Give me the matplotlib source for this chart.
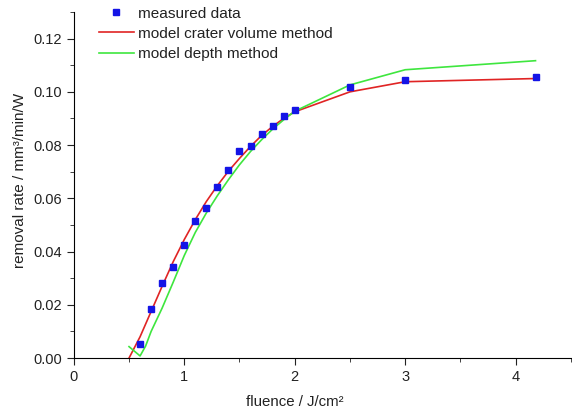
import matplotlib
matplotlib.use("Agg")
import matplotlib.pyplot as plt
from matplotlib.ticker import MultipleLocator

plt.rcParams['font.family'] = ['Liberation Sans', 'DejaVu Sans']

# measured data
fluence = [0.6, 0.7, 0.8, 0.9, 1.0, 1.1, 1.2, 1.3, 1.4, 1.5, 1.6, 1.7, 1.8, 1.9, 2.0, 2.5, 3.0, 4.18]
rate = [0.0053, 0.0184, 0.0281, 0.0342, 0.0425, 0.0515, 0.0564, 0.0644, 0.0707, 0.0776,
        0.0798, 0.0842, 0.0870, 0.0910, 0.0932, 0.1018, 0.1043, 0.1054]

# model crater volume method
f_vol = [0.5, 0.6, 0.7, 0.8, 0.9, 1.0, 1.1, 1.2, 1.3, 1.4, 1.5, 1.6, 1.7, 1.8, 1.9, 2.0, 2.5, 3.0, 4.18]
r_vol = [0.0, 0.0080, 0.0175, 0.0270, 0.0362, 0.0445, 0.0520, 0.0588, 0.0648, 0.0702, 0.0750,
         0.0795, 0.0836, 0.0870, 0.0900, 0.0925, 0.1000, 0.1038, 0.1050]

# model depth method
f_dep = [0.5, 0.6, 0.65, 0.7, 0.8, 0.9, 1.0, 1.1, 1.2, 1.3, 1.4, 1.5, 1.6, 1.7, 1.8, 1.9, 2.0, 2.5, 3.0, 4.18]
r_dep = [0.0043, 0.0008, 0.0045, 0.0100, 0.0188, 0.0285, 0.0385, 0.0472, 0.0545, 0.0610, 0.0670,
         0.0726, 0.0776, 0.0820, 0.0860, 0.0895, 0.0927, 0.1026, 0.1083, 0.1117]

fig = plt.figure(figsize=(5.72, 4.13), dpi=100)
ax = fig.add_axes([0.129, 0.133, 0.869, 0.838])

ax.plot(fluence, rate, 's', color='#1414e6', markersize=5, label='measured data', zorder=3)
ax.plot(f_vol, r_vol, color='#e02424', lw=1.2, label='model crater volume method')
ax.plot(f_dep, r_dep, color='#3ee63e', lw=1.2, label='model depth method')

ax.set_xlim(0, 4.5)
ax.set_ylim(0, 0.13)
ax.xaxis.set_major_locator(MultipleLocator(1))
ax.xaxis.set_minor_locator(MultipleLocator(0.5))
ax.yaxis.set_major_locator(MultipleLocator(0.02))
ax.yaxis.set_minor_locator(MultipleLocator(0.01))
ax.yaxis.set_major_formatter(matplotlib.ticker.FormatStrFormatter('%.2f'))
ax.spines['top'].set_visible(False)
ax.spines['right'].set_visible(False)
ax.tick_params(which='major', direction='out', length=5, labelsize=10.5, colors='#222222')
ax.tick_params(which='minor', direction='out', length=3, colors='#222222')

ax.set_xlabel('fluence / J/cm²', fontsize=10.8, color='#222222')
ax.xaxis.set_label_coords(2.0 / 4.5, -0.108)
ax.set_ylabel('removal rate / mm³/min/W', fontsize=11, color='#222222')
ax.yaxis.set_label_coords(-0.095, 0.514)

leg = ax.legend(loc='upper left', bbox_to_anchor=(0.173, 0.984), bbox_transform=fig.transFigure,
                frameon=False, fontsize=11.1, handlelength=2.27, handletextpad=0.26,
                labelspacing=0.4, borderpad=0, borderaxespad=0, markerscale=0.8)
for t in leg.get_texts():
    t.set_color('#222222')

fig.savefig('out.png', dpi=100)
